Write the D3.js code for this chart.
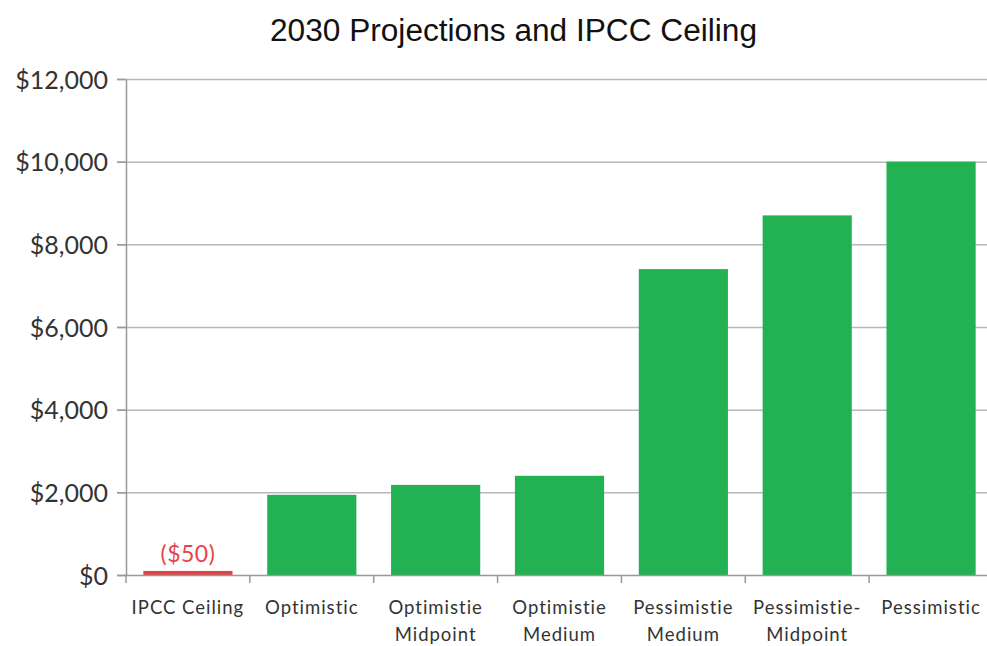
<!DOCTYPE html>
<html>
<head>
<meta charset="utf-8">
<script src="https://cdn.jsdelivr.net/npm/d3@7"></script>
<style>
  html, body { margin: 0; padding: 0; background: #fff; }
  svg { display: block; }
</style>
</head>
<body>
<svg id="chart" width="987" height="646"></svg>
<script>
// Scenario labels (line breaks marked with \n) and projected amounts
const categories = ["IPCC Ceiling", "Optimistic", "Optimistie\nMidpoint", "Optimistie\nMedium",
                    "Pessimistie\nMedium", "Pessimistie-\nMidpoint", "Pessimistic"];
const values = [50, 1940, 2180, 2400, 7400, 8700, 10000];
const yTicks = [0, 2000, 4000, 6000, 8000, 10000, 12000];
const valueLabels = ["($50)", "", "", "", "", "", ""];

const svg = d3.select("#chart");
const margin = { left: 126, right: 993, top: 79, bottom: 575 };

const x = d3.scaleBand()
  .domain(categories)
  .range([margin.left, margin.right])
  .paddingInner(0.28)
  .paddingOuter(0.14);

const y = d3.scaleLinear()
  .domain([0, 12000])
  .range([margin.bottom, margin.top]);

// Title
svg.append("text")
  .attr("x", 270)
  .attr("y", 41)
  .attr("textLength", 487)
  .attr("lengthAdjust", "spacingAndGlyphs")
  .style("font-family", "'Liberation Sans', Arial, sans-serif")
  .style("font-size", "31px")
  .style("fill", "#111")
  .text("2030 Projections and IPCC Ceiling");

// Horizontal gridlines
svg.append("g")
  .selectAll("line")
  .data(yTicks.filter(d => d > 0))
  .join("line")
  .attr("x1", margin.left - 9)
  .attr("x2", 987)
  .attr("y1", d => y(d) + 0.5)
  .attr("y2", d => y(d) + 0.5)
  .attr("stroke", "#b8b8b8")
  .attr("stroke-width", 1.5);

// Bars
svg.append("g")
  .selectAll("rect")
  .data(values)
  .join("rect")
  .attr("x", (d, i) => x(categories[i]))
  .attr("width", x.bandwidth())
  .attr("y", d => y(d) - (d < 100 ? 2 : 0))
  .attr("height", d => margin.bottom - y(d) + (d < 100 ? 2 : 0))
  .attr("fill", (d, i) => i === 0 ? "#e0454a" : "#22b153");

// Value label on the ceiling bar
svg.append("g")
  .selectAll("text")
  .data(values)
  .join("text")
  .attr("x", (d, i) => x(categories[i]) + x.bandwidth() / 2)
  .attr("y", d => y(d) - 11)
  .attr("text-anchor", "middle")
  .style("font-family", "Lato, 'DejaVu Sans', sans-serif")
  .style("font-size", "23px")
  .style("letter-spacing", "0.5px")
  .style("fill", "#e5454a")
  .text((d, i) => valueLabels[i]);

// Y axis
const yAxis = svg.append("g")
  .attr("transform", `translate(${margin.left},0)`)
  .call(d3.axisLeft(y).tickValues(yTicks).tickSize(9).tickSizeOuter(0)
    .tickFormat(d => "$" + d3.format(",")(d)));
yAxis.select(".domain").attr("stroke", "#999").attr("stroke-width", 1.5);
yAxis.selectAll(".tick line").attr("stroke", "#999").attr("stroke-width", 1.5);
yAxis.selectAll(".tick text")
  .attr("x", -18)
  .attr("dy", "0.36em")
  .style("font-family", "Lato, 'DejaVu Sans', sans-serif")
  .style("font-size", "25px")
  .style("fill", "#333");

// X axis with boundary ticks between categories
const xAxisG = svg.append("g").attr("transform", `translate(0,${margin.bottom})`);
xAxisG.append("line")
  .attr("x1", margin.left - 9).attr("x2", 987)
  .attr("y1", 0.5).attr("y2", 0.5)
  .attr("stroke", "#999").attr("stroke-width", 1.5);
xAxisG.selectAll("line.bound")
  .data(categories)
  .join("line")
  .attr("class", "bound")
  .attr("x1", d => x(d) - x.step() * x.paddingInner() / 2)
  .attr("x2", d => x(d) - x.step() * x.paddingInner() / 2)
  .attr("y1", 0).attr("y2", 8)
  .attr("stroke", "#999").attr("stroke-width", 1.5);

const labels = xAxisG.selectAll("text.cat")
  .data(categories)
  .join("text")
  .attr("class", "cat")
  .attr("text-anchor", "middle")
  .attr("transform", d => `translate(${x(d) + x.bandwidth() / 2},39)`)
  .style("font-family", "Lato, 'DejaVu Sans', sans-serif")
  .style("font-size", "18.5px")
  .style("letter-spacing", "1px")
  .style("fill", "#333");
labels.selectAll("tspan")
  .data(d => d.split("\n"))
  .join("tspan")
  .attr("x", 0)
  .attr("dy", (d, i) => i === 0 ? 0 : 27)
  .text(d => d);
</script>
</body>
</html>
